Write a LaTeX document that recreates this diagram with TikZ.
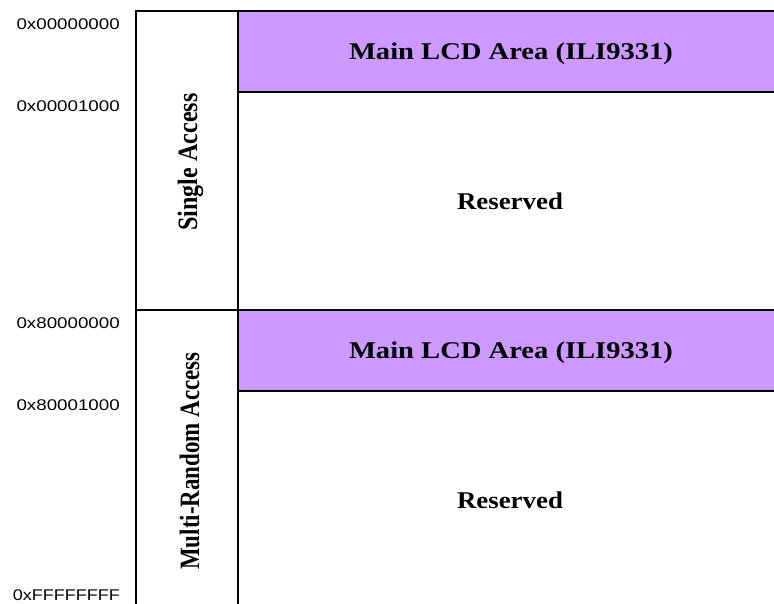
\documentclass[tikz,border=0pt]{standalone}
\usepackage{fontspec}
\setmainfont{Liberation Serif}
\newfontfamily\addrfont{Liberation Sans}
\definecolor{lcd}{HTML}{CC99FF}
\begin{document}
\begin{tikzpicture}[x=1pt,y=-1pt,
  addr/.style={anchor=base east,inner sep=0pt,font=\addrfont\fontsize{15.5}{17}\selectfont},
  region/.style={anchor=base,inner sep=0pt,font=\bfseries\fontsize{24}{28}\selectfont},
  access/.style={rotate=90,anchor=base,inner sep=0pt,font=\bfseries\fontsize{28}{32}\selectfont},
  frame/.style={line width=2.8pt}]
\useasboundingbox (0,0) rectangle (774,603);
\begin{scope}
\clip (0,0) rectangle (774,603);
\fill[lcd] (238,11) rectangle (790,92);
\fill[lcd] (238,310) rectangle (790,391);
\draw[frame] (136,620) -- (136,11) -- (790,11);
\draw[frame] (238,11) -- (238,620);
\draw[frame] (238,92) -- (790,92);
\draw[frame] (136,310) -- (790,310);
\draw[frame] (238,391) -- (790,391);
\end{scope}
\node[addr] (a0) at (120,29.5) {\scalebox{1.21}[1]{0x00000000}};
\node[addr] (a1) at (120,111) {\scalebox{1.21}[1]{0x00001000}};
\node[addr] (a2) at (120,328) {\scalebox{1.21}[1]{0x80000000}};
\node[addr] (a3) at (120,410.5) {\scalebox{1.21}[1]{0x80001000}};
\node[addr] (a4) at (120,600.5) {\scalebox{1.16}[1]{0xFFFFFFFF}};
\node[region] (lcd1) at (511,59) {\scalebox{1.19}[1]{Main LCD Area (ILI9331)}};
\node[region] (res1) at (510,209) {\scalebox{1.12}[1]{Reserved}};
\node[region] (lcd2) at (511,358) {\scalebox{1.19}[1]{Main LCD Area (ILI9331)}};
\node[region] (res2) at (510,508) {\scalebox{1.12}[1]{Reserved}};
\node[access] (sa) at (197,162) {\scalebox{0.86}[1]{Single Access}};
\node[access] (ma) at (199,461) {\scalebox{0.82}[1]{Multi-Random Access}};
\end{tikzpicture}
\end{document}
